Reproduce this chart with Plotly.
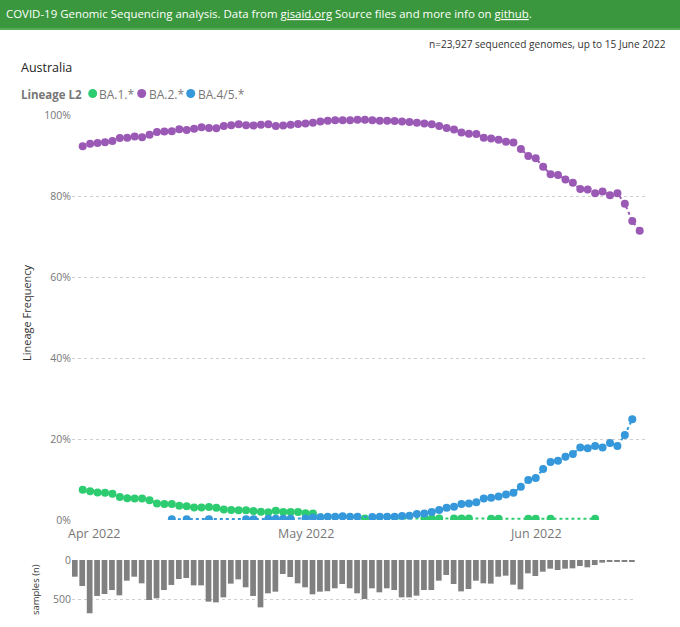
import pandas as pd
import plotly.graph_objects as go

# ---------------- data ----------------
start_date = "2022-04-01"
n_days = 76
dates = list(pd.date_range(start_date, periods=n_days))

ba1 = [7.5, 7.1, 6.8, 6.7, 6.5, 5.7, 5.4, 5.3, 5.3, 4.9,
       4.1, 3.95, 3.95, 3.5, 3.4, 3.1, 3.1, 3.2, 3.0, 2.6,
       2.5, 2.4, 2.4, 2.2, 2.05, 1.9, 2.3, 2.0, 2.0, 2.0,
       1.65, 1.6, None, None, None, None, None, None, 0.4, None,
       None, None, None, None, None, None, 0.4, 0.4, 0.4, None,
       0.4, 0.4, 0.4, None, None, 0.3, 0.3, None, None, None,
       0.3, 0.3, None, 0.3, None, None, None, None, None, 0.3,
       None, None, None, None, None, None]

ba2 = [92.3, 92.9, 93.1, 93.3, 93.6, 94.3, 94.4, 94.7, 94.5, 95.1,
       95.8, 95.9, 96.0, 96.5, 96.3, 96.6, 97.0, 96.8, 96.7, 97.3,
       97.5, 97.7, 97.5, 97.4, 97.6, 97.7, 97.3, 97.4, 97.6, 97.8,
       97.9, 98.1, 98.4, 98.6, 98.7, 98.7, 98.7, 98.8, 98.8, 98.7,
       98.6, 98.6, 98.5, 98.4, 98.3, 98.1, 97.9, 97.7, 97.3, 96.8,
       96.4, 95.7, 95.4, 95.3, 94.4, 94.2, 93.9, 93.4, 93.2, 91.6,
       89.9, 89.3, 87.2, 85.4, 85.2, 84.1, 83.3, 81.7, 81.6, 80.7,
       81.1, 80.2, 80.7, 78.1, 73.8, 71.4]

ba45 = [None, None, None, None, None, None, None, None, None, None,
        None, None, 0.2, None, 0.2, None, None, 0.2, None, None,
        None, None, 0.2, 0.2, None, 0.3, 0.3, 0.3, 0.3, None,
        0.4, 0.6, 0.7, 0.8, 0.8, 0.9, 0.8, 0.8, None, 0.75,
        0.8, 0.8, 0.8, 1.0, 1.07, 1.5, 1.6, 2.0, 2.5, 3.0,
        3.3, 3.95, 4.1, 4.4, 5.3, 5.5, 5.8, 6.3, 6.7, 8.2,
        9.9, 10.4, 12.6, 14.3, 14.6, 15.6, 16.3, 17.9, 17.7, 18.3,
        17.9, 19.0, 18.3, 21.0, 24.9, None]

samples = [214, 333, 683, 461, 436, 385, 453, 265, 214, 299,
           513, 491, 385, 320, 244, 231, 325, 325, 534, 543,
           479, 303, 248, 350, 461, 607, 427, 406, 179, 218,
           299, 350, 440, 406, 400, 363, 308, 363, 427, 500,
           363, 414, 363, 385, 479, 479, 457, 385, 385, 265,
           192, 308, 402, 372, 265, 299, 303, 214, 201, 316,
           376, 171, 205, 150, 111, 128, 111, 107, 77, 94,
           64, 34, 21, 17, 26, 13]

series_names = ["BA.1.*", "BA.2.*", "BA.4/5.*"]
series_colors = ["#2ecc71", "#9b59b6", "#3498db"]
x_tick_dates = ["2022-04-01", "2022-05-01", "2022-06-01"]
x_tick_text = ["Apr 2022", "May 2022", "Jun 2022"]
y_ticks = [0, 20, 40, 60, 80, 100]
y_tick_text = ["0%", "20%", "40%", "60%", "80%", "100%"]
bar_ticks = [0, 500]

# ---------------- layout helpers ----------------
W, H = 680, 627
FONT = "Open Sans"


def px(x):
    return x / W


def py(y):
    return 1 - y / H


fig = go.Figure()

for name, vals, col in zip(series_names, [ba1, ba2, ba45], series_colors):
    fig.add_trace(go.Scatter(
        x=dates, y=vals, name=name, mode="lines+markers",
        connectgaps=True, showlegend=False,
        line=dict(color=col, width=2, dash="dot"),
        marker=dict(color=col, size=8),
        xaxis="x", yaxis="y",
    ))

fig.add_trace(go.Bar(
    x=dates, y=samples, name="samples", showlegend=False,
    marker=dict(color="#808080", line=dict(width=0)),
    width=0.77 * 86400000,
    xaxis="x2", yaxis="y2",
))

fig.update_layout(
    template="none",
    width=W, height=H, autosize=False,
    margin=dict(l=0, r=0, t=0, b=0, pad=0, autoexpand=False),
    paper_bgcolor="white", plot_bgcolor="white",
    font=dict(family=FONT, color="#777777"),
    hovermode=False,
    xaxis=dict(
        domain=[px(72), px(647)],
        range=["2022-03-30 13:25", "2022-06-15 23:36"],
        type="date", automargin=False,
        tickvals=x_tick_dates, showticklabels=False, ticks="",
        showgrid=False, zeroline=False, showline=False,
        anchor="y",
    ),
    yaxis=dict(
        domain=[py(520), py(115)],
        range=[0, 100], automargin=False,
        tickvals=y_ticks, ticktext=y_tick_text, ticks="",
        showgrid=True, gridcolor="#cfcfcf", griddash="dot", gridwidth=1,
        zeroline=False, showline=False,
        tickfont=dict(size=10.5, color="#777777", family=FONT),
        anchor="x",
    ),
    xaxis2=dict(
        domain=[px(72), px(636)],
        range=["2022-03-31 14:57", "2022-06-15 13:15"],
        type="date", automargin=False,
        showticklabels=False, showgrid=False, zeroline=False, showline=False,
        anchor="y2",
    ),
    yaxis2=dict(
        domain=[py(620), py(560)],
        range=[769, 0], automargin=False,
        tickvals=bar_ticks, ticks="",
        showgrid=True, gridcolor="#cfcfcf", griddash="dot", gridwidth=1,
        zeroline=False, showline=False,
        tickfont=dict(size=10.5, color="#777777", family=FONT),
        anchor="x2",
    ),
    bargap=0.2,
)

shapes = [
    dict(type="rect", xref="paper", yref="paper", x0=0, x1=1,
         y0=py(28), y1=1, fillcolor="#3b973d", line=dict(width=0), layer="below"),
    dict(type="rect", xref="paper", yref="paper", x0=0, x1=1,
         y0=py(30), y1=py(28), fillcolor="#57ad52", line=dict(width=0), layer="below"),
]
legend_x = [92.7, 141.7, 190.7]
for cx, col in zip(legend_x, series_colors):
    shapes.append(dict(type="circle", xref="paper", yref="paper",
                       xsizemode="pixel", ysizemode="pixel",
                       xanchor=px(cx), yanchor=py(93.5),
                       x0=-4.5, x1=4.5, y0=-4.5, y1=4.5,
                       fillcolor=col, line=dict(width=0)))
fig.update_layout(shapes=shapes)

ul = '<span style="text-decoration:underline">{}</span>'
header = ("COVID-19 Genomic Sequencing analysis. Data from " + ul.format("gisaid.org")
          + " Source files and more info on " + ul.format("github") + ".")

annotations = [
    dict(text=header, x=px(4), y=py(14), xanchor="left", yanchor="middle",
         font=dict(size=11.45, color="white", family=FONT)),
    dict(text="n=23,927 sequenced genomes, up to 15 June 2022", x=px(668), y=py(44),
         xanchor="right", yanchor="middle",
         font=dict(size=10.1, color="#333333", family=FONT)),
    dict(text="Australia", x=px(19), y=py(68), xanchor="left", yanchor="middle",
         font=dict(size=12.5, color="#252423", family=FONT)),
    dict(text="<b>Lineage L2</b>", x=px(19), y=py(94), xanchor="left", yanchor="middle",
         font=dict(size=11.5, color="#777777", family=FONT)),
    dict(text="Lineage Frequency", x=px(26), y=py(313), xanchor="center", yanchor="middle",
         textangle=-90, font=dict(size=11, color="#333333", family=FONT)),
    dict(text="samples (n)", x=px(35), y=py(590), xanchor="center", yanchor="middle",
         textangle=-90, font=dict(size=9.5, color="#333333", family=FONT)),
]
legend_text_x = [97, 147, 196]
for tx, name in zip(legend_text_x, series_names):
    annotations.append(dict(text=name, x=px(tx), y=py(94), xanchor="left", yanchor="middle",
                            font=dict(size=12, color="#777777", family=FONT)))
for a in annotations:
    a.update(xref="paper", yref="paper", showarrow=False)

# x-axis tick labels, placed at their dates on the main x axis
# (the first one is nudged right, as in the reference where it is kept inside the visual)
label_shift = [12, 0, 0]
for d, t, s in zip(x_tick_dates, x_tick_text, label_shift):
    annotations.append(dict(text=t, x=d, xref="x", y=py(533), yref="paper",
                            xanchor="center", yanchor="middle", xshift=s, showarrow=False,
                            borderpad=0,
                            font=dict(size=12.5, color="#777777", family=FONT)))
fig.update_layout(annotations=annotations)

reset_js = ("document.documentElement.style.margin='0';document.documentElement.style.padding='0';"
            "document.body.style.margin='0';document.body.style.padding='0';")

fig.write_html("out.html", config={"displayModeBar": False}, post_script=reset_js)
